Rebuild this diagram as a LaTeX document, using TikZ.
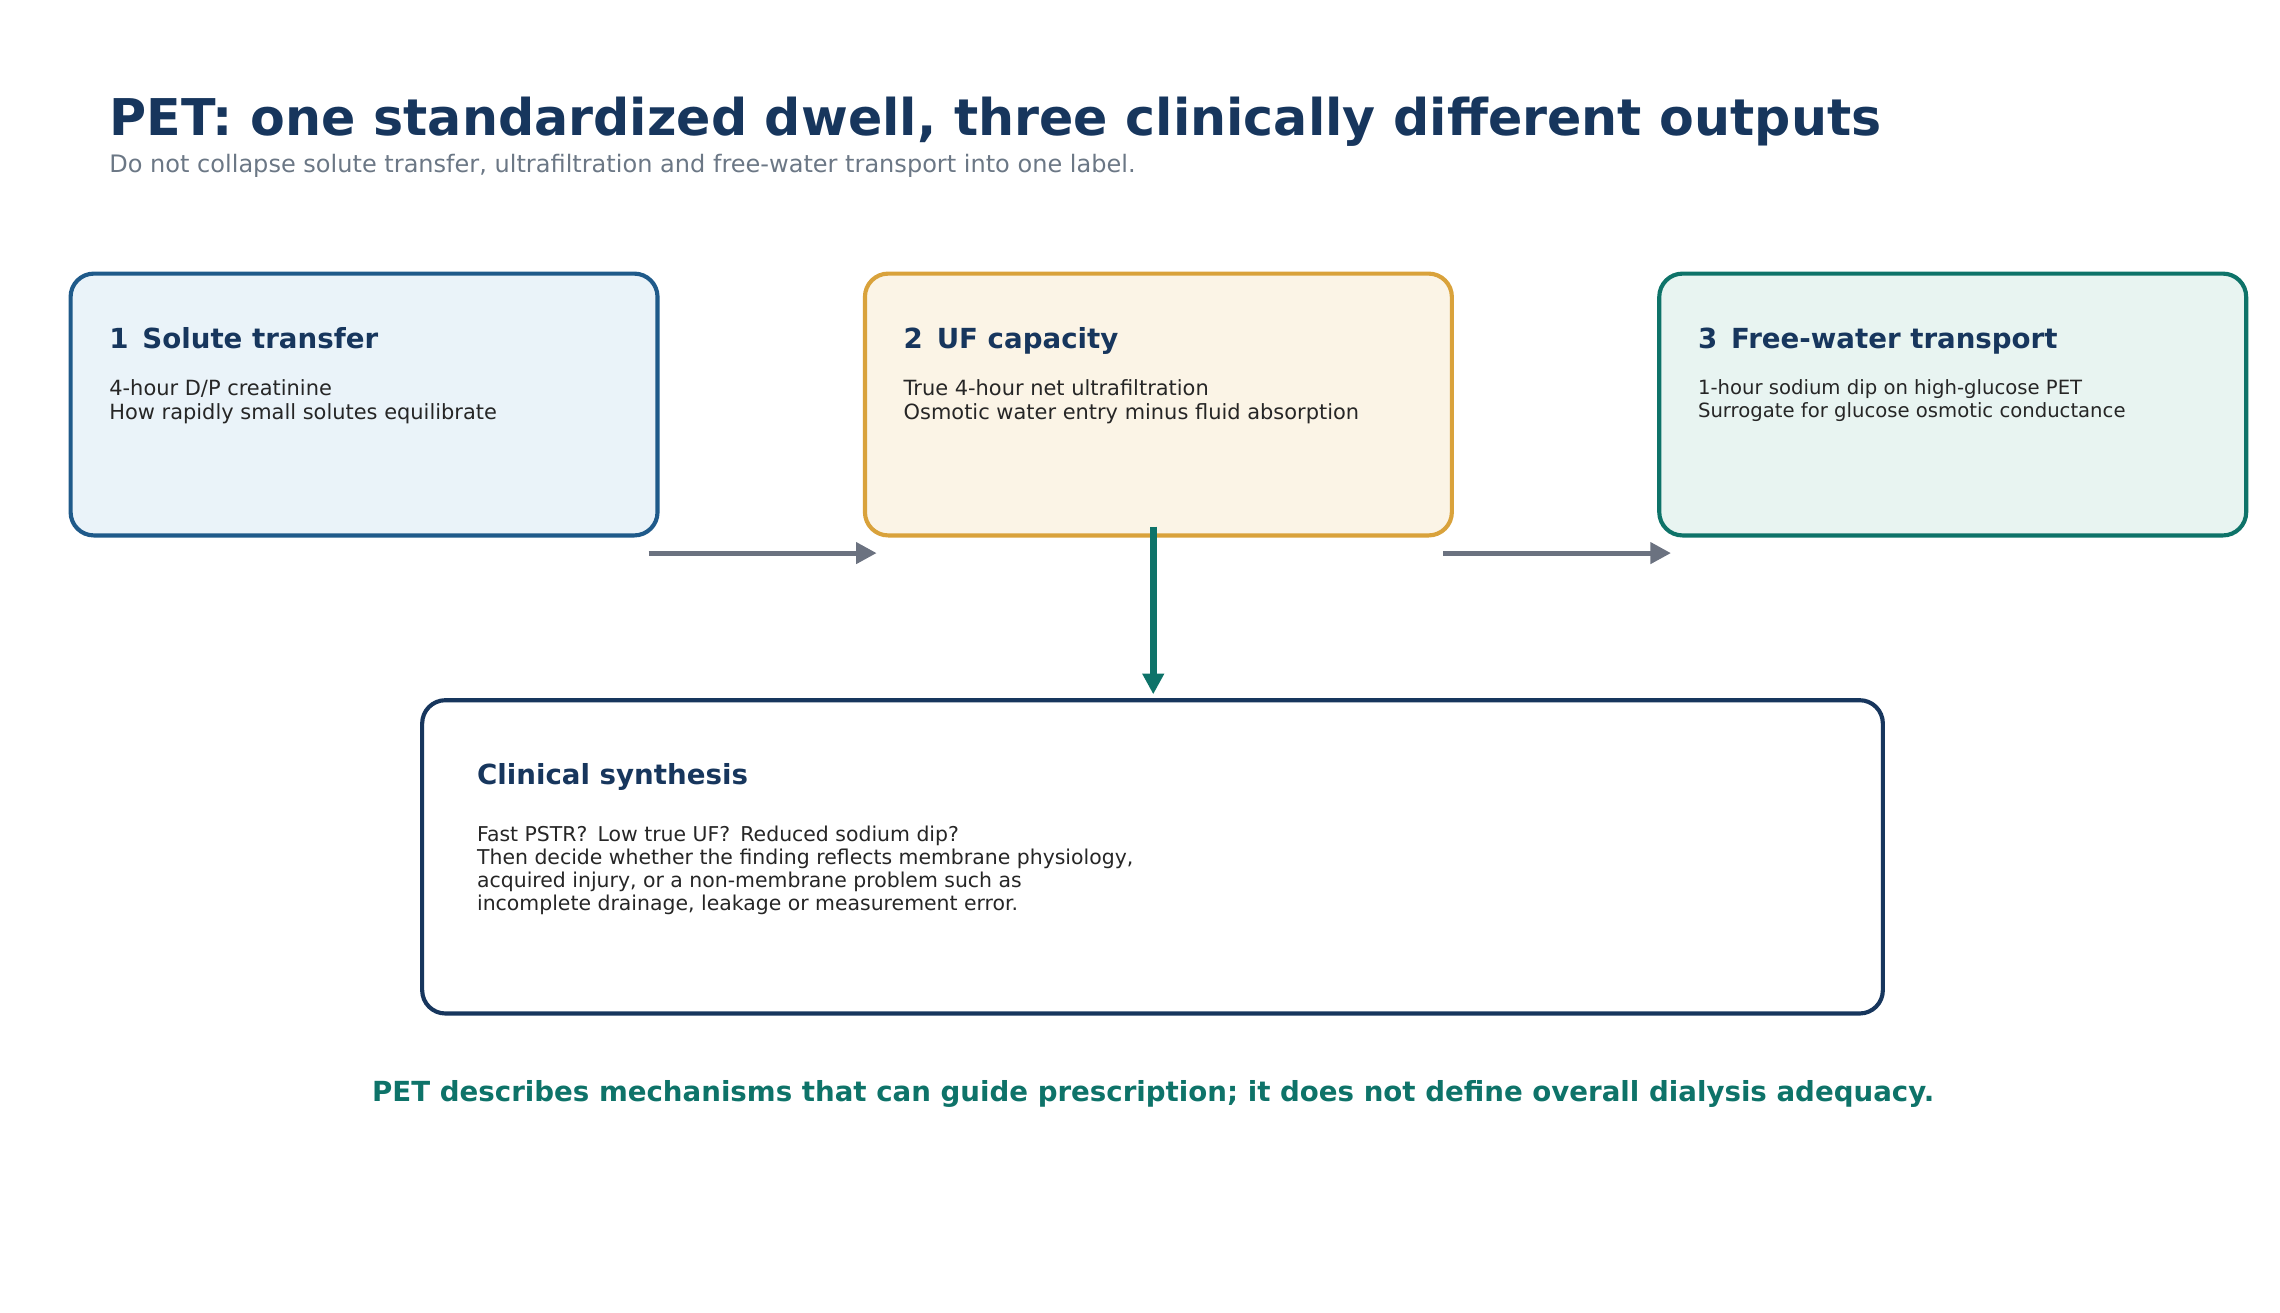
\documentclass[tikz,border=0pt]{standalone}
\usepackage{fontspec}
\setmainfont{DejaVu Sans}
\usetikzlibrary{arrows.meta,positioning}
\definecolor{navy}{HTML}{17365D}
\definecolor{bluedge}{HTML}{1F5A8A}
\definecolor{bluefill}{HTML}{EAF3F9}
\definecolor{oredge}{HTML}{D9A23B}
\definecolor{orfill}{HTML}{FBF4E6}
\definecolor{teal}{HTML}{0E7369}
\definecolor{tealfill}{HTML}{E8F4F1}
\definecolor{arrowgray}{HTML}{6B7280}
\definecolor{subgray}{HTML}{6B7785}
\tikzset{
  card/.style={rounded corners=9pt,line width=1.6pt},
  head/.style={anchor=base west,inner sep=0,text=navy,font=\fontsize{10.7}{13}\selectfont\bfseries},
  body/.style={anchor=north west,inner sep=0,text=black!85,align=left,font=\fontsize{8.1}{9.2}\selectfont},
  flow/.style={line width=2pt,draw=arrowgray,-{Triangle[length=8pt,width=8pt]}}
}
\begin{document}
\begin{tikzpicture}[x=0.02cm,y=-0.02cm]
            \useasboundingbox (0,0) rectangle (1550,892);
            % title

            \node[anchor=base west,inner sep=0,text=navy,font=\fontsize{19.6}{23}\selectfont\bfseries] (title) at (74,92) {PET: one standardized dwell, three clinically different outputs};
            \node[anchor=base west,inner sep=0,text=subgray,font=\fontsize{9.3}{11}\selectfont] (sub) at (74,117) {Do not collapse solute transfer, ultrafiltration and free-water transport into one label.};

            % the three cards

            \draw[card,draw=bluedge,fill=bluefill] (48,186) rectangle (447,364);
            \draw[card,draw=oredge,fill=orfill] (588,186) rectangle (987,364);
            \draw[card,draw=teal,fill=tealfill] (1128,186) rectangle (1527,364);

            \node[head] (h1) at (74,237) {1\enspace Solute transfer};
            \node[body] (b1) at (74,258) {4-hour D/P creatinine\\How rapidly small solutes equilibrate};
            \node[head] (h2) at (614,237) {2\enspace UF capacity};
            \node[body] (b2) at (614,258) {True 4-hour net ultrafiltration\\Osmotic water entry minus fluid absorption};
            \node[head] (h3) at (1154,237) {3\enspace Free-water transport};
            \node[body,font=\fontsize{7.6}{8.9}\selectfont] (b3) at (1154,258) {1-hour sodium dip on high-glucose PET\\Surrogate for glucose osmotic conductance};

            % synthesis

            \draw[card,draw=navy,fill=white] (287,476) rectangle (1280,689);
            \node[head] (h4) at (324,533) {Clinical synthesis};
            \node[body,font=\fontsize{7.9}{8.9}\selectfont] (b4) at (324,561) {Fast PSTR?\enspace Low true UF?\enspace Reduced sodium dip?\\Then decide whether the finding reflects membrane physiology,\\acquired injury, or a non-membrane problem such as\\incomplete drainage, leakage or measurement error.};

            % arrows

            \coordinate (a1) at (441,376); \coordinate (a2) at (596,376);
            \coordinate (a3) at (981,376); \coordinate (a4) at (1136,376);
            \coordinate (a5) at (784,358); \coordinate (a6) at (784,472);
            \draw[flow] (a1) -- (a2);
            \draw[flow] (a3) -- (a4);
            \draw[flow,draw=teal,line width=2.6pt] (a5) -- (a6);

            % footer

            \node[anchor=base,inner sep=0,text=teal,font=\fontsize{10.7}{13}\selectfont\bfseries] (foot) at (784,749) {PET describes mechanisms that can guide prescription; it does not define overall dialysis adequacy.};
\end{tikzpicture}
\end{document}
